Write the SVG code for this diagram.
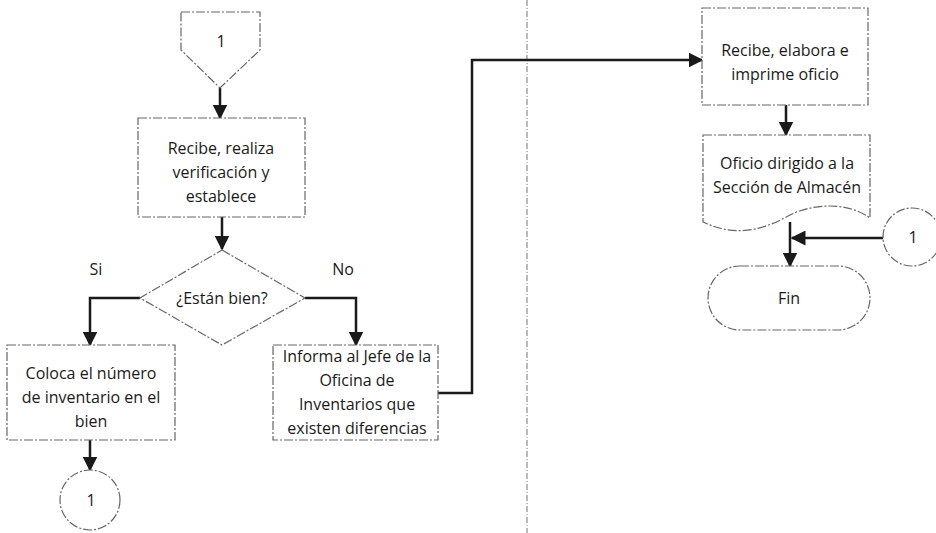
<svg xmlns="http://www.w3.org/2000/svg" width="936" height="533" viewBox="0 0 936 533">
<style>
  .shape { fill: #fff; stroke: #666; stroke-width: 1.2; stroke-dasharray: 9 2 2 2; }
  .conn { fill: none; stroke: #1a1a1a; stroke-width: 2.5; }
  .txt { font-family: "Open Sans", "Liberation Sans", sans-serif; font-size: 16px; fill: #1a1a1a; text-anchor: middle; }
  .divider { stroke: #777; stroke-width: 1; stroke-dasharray: 6 2 1 2; fill: none; }
</style>
<defs>
  <marker id="arrow" viewBox="0 0 10 10" refX="9" refY="5" markerWidth="6" markerHeight="6" orient="auto" markerUnits="strokeWidth">
    <path d="M0,0 L10,5 L0,10 z" fill="#1a1a1a"/>
  </marker>
</defs>
<rect width="936" height="533" fill="#fff"/>
<line class="divider" x1="527" y1="0" x2="527" y2="533"/>

<g id="conectores">
  <path class="conn" d="M220,88 V118" marker-end="url(#arrow)"/>
  <path class="conn" d="M222,217 V249" marker-end="url(#arrow)"/>
  <path class="conn" d="M140,298 H90 V345" marker-end="url(#arrow)"/>
  <path class="conn" d="M305,298 H356 V345" marker-end="url(#arrow)"/>
  <path class="conn" d="M90,440 V470" marker-end="url(#arrow)"/>
  <path class="conn" d="M438,393 H472 V60 H702" marker-end="url(#arrow)"/>
  <path class="conn" d="M786,105 V135" marker-end="url(#arrow)"/>
  <path class="conn" d="M790,222 V266" marker-end="url(#arrow)"/>
  <path class="conn" d="M884,238 H792" marker-end="url(#arrow)"/>
</g>

<g id="conector-pagina-1">
  <path class="shape" d="M181,12 H260 V50 L220,88 L181,50 Z"/>
  <text class="txt" x="221" y="47">1</text>
</g>

<g id="recibe-verifica">
  <rect class="shape" x="138" y="118" width="167" height="99"/>
  <text class="txt" x="221" y="154">Recibe, realiza</text>
  <text class="txt" x="221" y="178">verificación y</text>
  <text class="txt" x="221" y="202">establece</text>
</g>

<g id="decision">
  <path class="shape" d="M222,250 L305,298 L222,345 L140,298 Z"/>
  <text class="txt" x="222" y="304">¿Están bien?</text>
  <text class="txt" x="96" y="275">Si</text>
  <text class="txt" x="343" y="275">No</text>
</g>

<g id="coloca-numero">
  <rect class="shape" x="7" y="345" width="168" height="95"/>
  <text class="txt" x="91" y="379">Coloca el número</text>
  <text class="txt" x="91" y="403">de inventario en el</text>
  <text class="txt" x="91" y="427">bien</text>
</g>

<g id="conector-1-abajo">
  <circle class="shape" cx="90" cy="500" r="30"/>
  <text class="txt" x="91" y="506">1</text>
</g>

<g id="informa-jefe">
  <rect class="shape" x="273" y="345" width="165" height="95"/>
  <text class="txt" x="357" y="362">Informa al Jefe de la</text>
  <text class="txt" x="357" y="386">Oficina de</text>
  <text class="txt" x="357" y="410">Inventarios que</text>
  <text class="txt" x="357" y="434">existen diferencias</text>
</g>

<g id="recibe-elabora">
  <rect class="shape" x="702" y="8" width="166" height="97"/>
  <text class="txt" x="785" y="56">Recibe, elabora e</text>
  <text class="txt" x="785" y="80">imprime oficio</text>
</g>

<g id="oficio-documento">
  <path class="shape" d="M703,135 H870 V218 C845,200 810,205 790,215 C770,226 740,240 703,222 Z"/>
  <text class="txt" x="787" y="169">Oficio dirigido a la</text>
  <text class="txt" x="787" y="193">Sección de Almacén</text>
</g>

<g id="conector-1-derecha">
  <circle class="shape" cx="912" cy="237" r="29"/>
  <text class="txt" x="913" y="243">1</text>
</g>

<g id="fin">
  <rect class="shape" x="708" y="266" width="162" height="64" rx="32" ry="32"/>
  <text class="txt" x="789" y="304">Fin</text>
</g>
</svg>
